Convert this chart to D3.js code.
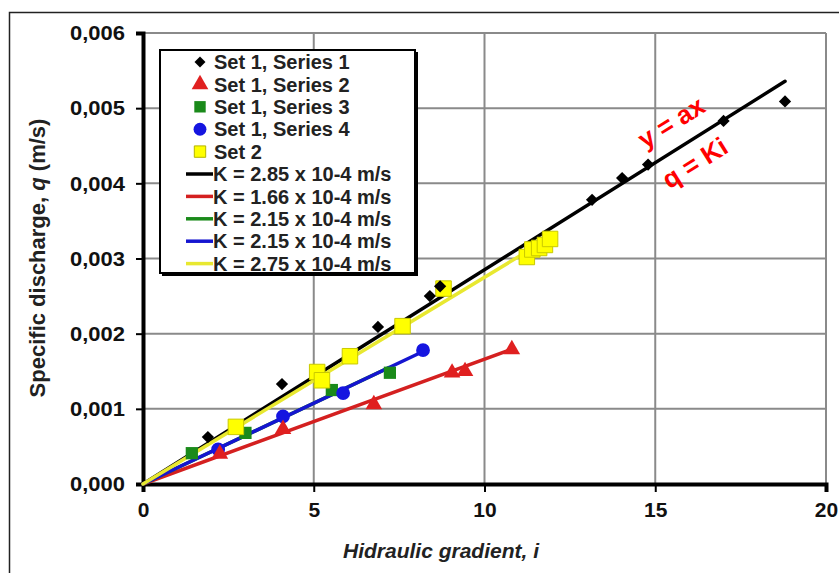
<!DOCTYPE html>
<html>
<head>
<meta charset="utf-8">
<script src="https://cdn.jsdelivr.net/npm/d3@7"></script>
<style>
  body { margin: 0; background: #fff; }
  svg text { font-family: "Liberation Sans", Arial, sans-serif; }
</style>
</head>
<body>
<script>
// measured values (i, q)
const set1Series1 = [[1.9, 0.000625], [4.07, 0.00133], [6.88, 0.00209], [8.4, 0.0025], [8.7, 0.00263],
                     [13.15, 0.00378], [14.03, 0.00407], [14.79, 0.00425], [17.0, 0.00483], [18.8, 0.00509]];
const set1Series2 = [[2.25, 0.0004], [4.1, 0.00073], [6.76, 0.00106], [9.05, 0.00148], [9.43, 0.0015], [10.8, 0.00179]];
const set1Series3 = [[1.43, 0.00041], [3.0, 0.00068], [5.53, 0.00125], [7.23, 0.00148]];
const set1Series4 = [[2.2, 0.00046], [4.1, 0.0009], [5.86, 0.00121], [8.2, 0.00178]];
const set2 = [[2.72, 0.00076], [5.1, 0.00149], [5.24, 0.00138], [6.06, 0.0017], [7.6, 0.0021], [8.8, 0.0026],
              [11.24, 0.00302], [11.4, 0.00312], [11.6, 0.00314], [11.77, 0.00318], [11.92, 0.00326]];

// fitted lines q = K i
const fitNames = ['K = 2.85 x 10-4 m/s', 'K = 1.66 x 10-4 m/s', 'K = 2.15 x 10-4 m/s', 'K = 2.15 x 10-4 m/s', 'K = 2.75 x 10-4 m/s'];
const fitK = [2.85e-4, 1.66e-4, 2.15e-4, 2.15e-4, 2.75e-4];
const fitEnd = [18.8, 10.8, 7.2, 8.2, 11.2];
const fitColors = ['#000000', '#d42020', '#1a8a1a', '#1515d0', '#e8e830'];

const xTicks = [0, 5, 10, 15, 20];
const yTicks = [0, 0.001, 0.002, 0.003, 0.004, 0.005, 0.006];

const width = 839, height = 573;
const margin = { left: 143, right: 13, top: 33, bottom: 89 };

const svg = d3.select('body').append('svg')
  .attr('width', width)
  .attr('height', height);

// outer frame
svg.append('rect')
  .attr('x', 9.5).attr('y', 12.5)
  .attr('width', 860).attr('height', 600)
  .attr('fill', 'none').attr('stroke', '#222').attr('stroke-width', 1.5);

const x = d3.scaleLinear().domain([0, 20]).range([margin.left, width - margin.right]);
const y = d3.scaleLinear().domain([0, 0.006]).range([height - margin.bottom, margin.top]);

const commaFmt = d => d3.format('.3f')(d).replace('.', ',');

// grid
svg.append('g')
  .selectAll('line.vg')
  .data(xTicks.slice(1))
  .join('line')
  .attr('x1', d => x(d)).attr('x2', d => x(d))
  .attr('y1', y(0)).attr('y2', y(0.006))
  .attr('stroke', '#8a8a8a').attr('stroke-width', 2);

svg.append('g')
  .selectAll('line.hg')
  .data(yTicks.slice(1))
  .join('line')
  .attr('x1', x(0)).attr('x2', x(20))
  .attr('y1', d => y(d)).attr('y2', d => y(d))
  .attr('stroke', '#8a8a8a').attr('stroke-width', 2);

// axes
const xAxis = d3.axisBottom(x).tickValues(xTicks).tickSize(8).tickPadding(10).tickFormat(d3.format('d'));
const yAxis = d3.axisLeft(y).tickValues(yTicks).tickSize(7).tickPadding(11).tickFormat(commaFmt);

const gx = svg.append('g')
  .attr('transform', `translate(0,${y(0)})`)
  .call(xAxis);
gx.select('.domain').attr('stroke', '#000').attr('stroke-width', 4);
gx.selectAll('.tick line').attr('stroke', '#000').attr('stroke-width', 2);
gx.selectAll('.tick text').attr('font-size', 21).attr('font-weight', 'bold').attr('fill', '#111');

const gy = svg.append('g')
  .attr('transform', `translate(${x(0)},0)`)
  .call(yAxis);
gy.select('.domain').attr('stroke', '#000').attr('stroke-width', 4);
gy.selectAll('.tick line').attr('stroke', '#000').attr('stroke-width', 2);
gy.selectAll('.tick text').attr('font-size', 21).attr('font-weight', 'bold').attr('fill', '#111')
  .attr('textLength', 55).attr('lengthAdjust', 'spacingAndGlyphs');

// axis titles
svg.append('text')
  .attr('x', 441).attr('y', 558)
  .attr('text-anchor', 'middle')
  .attr('font-size', 21).attr('font-weight', 'bold').attr('font-style', 'italic')
  .attr('fill', '#222')
  .text('Hidraulic gradient, i');

const yTitle = svg.append('text')
  .attr('transform', 'translate(45,258) rotate(-90)')
  .attr('text-anchor', 'middle')
  .attr('font-size', 22).attr('font-weight', 'bold')
  .attr('fill', '#222');
yTitle.append('tspan').text('Specific discharge, ');
yTitle.append('tspan').attr('font-style', 'italic').text('q');
yTitle.append('tspan').text(' (m/s)');

// fitted lines
const plot = svg.append('g');
fitK.forEach((k, i) => {
  plot.append('line')
    .attr('x1', x(0)).attr('y1', y(0))
    .attr('x2', x(fitEnd[i])).attr('y2', y(k * fitEnd[i]))
    .attr('stroke', fitColors[i])
    .attr('stroke-width', 3.5)
    .attr('stroke-linecap', 'round');
});

// markers
const sym = (type, size) => d3.symbol().type(type).size(size);

plot.append('g').selectAll('path')
  .data(set1Series3)
  .join('path')
  .attr('transform', d => `translate(${x(d[0])},${y(d[1])})`)
  .attr('d', sym(d3.symbolSquare, 150))
  .attr('fill', '#1a8a1a');

plot.append('g').selectAll('path')
  .data(set1Series4)
  .join('path')
  .attr('transform', d => `translate(${x(d[0])},${y(d[1])})`)
  .attr('d', sym(d3.symbolCircle, 150))
  .attr('fill', '#1515e0');

plot.append('g').selectAll('path')
  .data(set1Series2)
  .join('path')
  .attr('transform', d => `translate(${x(d[0])},${y(d[1])})`)
  .attr('d', sym(d3.symbolTriangle, 120))
  .attr('fill', '#e02020');

plot.append('g').selectAll('path')
  .data(set2)
  .join('path')
  .attr('transform', d => `translate(${x(d[0])},${y(d[1])})`)
  .attr('d', sym(d3.symbolSquare, 240))
  .attr('fill', '#ffff00')
  .attr('stroke', '#c9c900').attr('stroke-width', 1);

plot.append('g').selectAll('path')
  .data(set1Series1)
  .join('path')
  .attr('transform', d => `translate(${x(d[0])},${y(d[1])}) rotate(45)`)
  .attr('d', sym(d3.symbolSquare, 75))
  .attr('fill', '#000');

// annotation
const ann = svg.append('g')
  .attr('fill', '#ff0000')
  .attr('font-size', 26).attr('font-weight', 'bold');
ann.append('text')
  .attr('transform', 'translate(676,130) rotate(-32)')
  .attr('text-anchor', 'middle')
  .text('y = ax');
ann.append('text')
  .attr('transform', 'translate(690,155) rotate(-32)')
  .attr('text-anchor', 'middle')
  .attr('dy', '0.7em')
  .text('q = Ki');

// legend
const legend = svg.append('g');
legend.append('rect')
  .attr('x', 162).attr('y', 52).attr('width', 256).attr('height', 224)
  .attr('fill', '#000');
legend.append('rect')
  .attr('x', 160).attr('y', 50).attr('width', 255).attr('height', 223)
  .attr('fill', '#fff').attr('stroke', '#000').attr('stroke-width', 2);

const legendMarkers = [
  { name: 'Set 1, Series 1', type: d3.symbolSquare, size: 60, fill: '#000', rot: 45 },
  { name: 'Set 1, Series 2', type: d3.symbolTriangle, size: 120, fill: '#e02020', rot: 0 },
  { name: 'Set 1, Series 3', type: d3.symbolSquare, size: 130, fill: '#1a8a1a', rot: 0 },
  { name: 'Set 1, Series 4', type: d3.symbolCircle, size: 130, fill: '#1515e0', rot: 0 },
  { name: 'Set 2', type: d3.symbolSquare, size: 130, fill: '#ffff00', rot: 0 }
];
const rowY = i => 62 + i * 22.4;

legendMarkers.forEach((m, i) => {
  legend.append('path')
    .attr('transform', `translate(200,${rowY(i)}) rotate(${m.rot})`)
    .attr('d', sym(m.type, m.size))
    .attr('fill', m.fill)
    .attr('stroke', m.fill === '#ffff00' ? '#b5b500' : 'none');
  legend.append('text')
    .attr('x', 214).attr('y', rowY(i)).attr('dy', '0.36em')
    .attr('font-size', 20).attr('font-weight', 'bold').attr('fill', '#222')
    .text(m.name);
});

fitNames.forEach((n, j) => {
  const i = j + 5;
  legend.append('line')
    .attr('x1', 186).attr('x2', 213)
    .attr('y1', rowY(i)).attr('y2', rowY(i))
    .attr('stroke', fitColors[j]).attr('stroke-width', 3.5);
  legend.append('text')
    .attr('x', 213).attr('y', rowY(i)).attr('dy', '0.36em')
    .attr('font-size', 20).attr('font-weight', 'bold').attr('fill', '#222')
    .text(n);
});
</script>
</body>
</html>
